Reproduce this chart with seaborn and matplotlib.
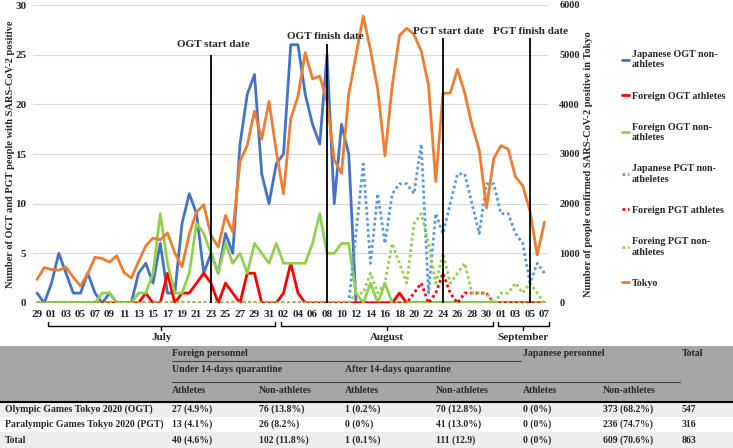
import numpy as np
import pandas as pd
import matplotlib
matplotlib.use("Agg")
import matplotlib.pyplot as plt
import seaborn as sns
from matplotlib.lines import Line2D
from matplotlib.patches import Rectangle
import matplotlib.transforms as mtransforms

# ---------------- data ----------------
day_labels = ["29", "30",
              "01", "02", "03", "04", "05", "06", "07", "08", "09", "10",
              "11", "12", "13", "14", "15", "16", "17", "18", "19", "20",
              "21", "22", "23", "24", "25", "26", "27", "28", "29", "30", "31",
              "01", "02", "03", "04", "05", "06", "07", "08", "09", "10",
              "11", "12", "13", "14", "15", "16", "17", "18", "19", "20",
              "21", "22", "23", "24", "25", "26", "27", "28", "29", "30", "31",
              "01", "02", "03", "04", "05", "06", "07"]

jp_ogt_non = [1, 0, 2, 5, 3, 1, 1, 3, 1, 0, 1, 0, 0, 0, 3, 4, 2, 6, 1, 1,
              8, 11, 9, 3, 5, 3, 7, 5, 16, 21, 23, 13, 10, 14, 15, 26, 26, 21, 18, 16,
              25, 10, 18, 15, 0, 0, 0, 0, 0, 0, 0, 0, 0, 0, 0, 0, 0, 0, 0, 0,
              0, 0, 0, 0, 0, 0, 0, 0, 0, 0, 0]
fo_ogt_ath = [0, 0, 0, 0, 0, 0, 0, 0, 0, 0, 0, 0, 0, 0, 0, 1, 0, 0, 3, 0,
              1, 1, 2, 3, 2, 0, 2, 1, 0, 3, 3, 0, 0, 0, 1, 4, 1, 0, 0, 0,
              0, 0, 0, 0, 0, 0, 0, 0, 0, 0, 1, 0, 0, 0, 0, 0, 0, 0, 0, 0,
              0, 0, 0, 0, 0, 0, 0, 0, 0, 0, 0]
fo_ogt_non = [0, 0, 0, 0, 0, 0, 0, 0, 0, 1, 1, 0, 0, 0, 1, 1, 3, 9, 4, 1,
              1, 3, 8, 7, 5, 3, 6, 4, 5, 3, 6, 5, 4, 6, 4, 4, 4, 4, 6, 9,
              5, 5, 6, 6, 1, 0, 2, 0, 2, 0, 0, 0, 0, 0, 0, 0, 0, 0, 0, 0,
              0, 0, 0, 0, 0, 0, 0, 0, 0, 0, 0]
jp_pgt_non = [0, 0, 0, 0, 0, 0, 0, 0, 0, 0, 0, 0, 0, 0, 0, 0, 0, 0, 0, 0,
              0, 0, 0, 0, 0, 0, 0, 0, 0, 0, 0, 0, 0, 0, 0, 0, 0, 0, 0, 0,
              0, 0, 0, 0, 7, 14, 4, 11, 6, 11, 12, 12, 11, 16, 1, 9, 7, 10, 13, 13,
              10, 7, 12, 12, 9, 9, 7, 6, 2, 4, 3]
fo_pgt_ath = [0, 0, 0, 0, 0, 0, 0, 0, 0, 0, 0, 0, 0, 0, 0, 0, 0, 0, 0, 0,
              0, 0, 0, 0, 0, 0, 0, 0, 0, 0, 0, 0, 0, 0, 0, 0, 0, 0, 0, 0,
              0, 0, 0, 0, 0, 0, 0, 0, 0, 0, 0, 0, 1, 2, 0, 1, 3, 1, 0, 1,
              1, 1, 1, 0, 0, 0, 0, 0, 0, 0, 0]
fo_pgt_non = [0, 0, 0, 0, 0, 0, 0, 0, 0, 0, 0, 0, 0, 0, 0, 0, 0, 0, 0, 0,
              0, 0, 0, 0, 0, 0, 0, 0, 0, 0, 0, 0, 0, 0, 0, 0, 0, 0, 0, 0,
              0, 0, 0, 0, 1, 1, 3, 1, 2, 6, 4, 2, 8, 9, 6, 2, 5, 2, 3, 4,
              1, 1, 1, 0, 1, 1, 2, 1, 2, 1, 0]
tokyo = [476, 714, 673, 660, 716, 518, 342, 593, 920, 896, 822, 950, 614, 502,
         830, 1149, 1308, 1271, 1410, 1008, 727, 1387, 1832, 1979, 1359, 1128,
         1763, 1429, 2848, 3177, 3865, 3300, 4058, 3058, 2195, 3709, 4166, 5042,
         4515, 4566, 4066, 2884, 2612, 4200, 4989, 5773, 5094, 4295, 2962, 4377,
         5386, 5534, 5405, 5074, 4392, 2447, 4220, 4228, 4704, 4227, 3581, 3081,
         1915, 2909, 3168, 3099, 2539, 2362, 1853, 968, 1629]

event_labels = ["OGT start date", "OGT finish date", "PGT start date", "PGT finish date"]
event_days = [24, 40, 56, 68]
months = ["July", "August", "September"]

series_names = ["Japanese OGT non-\nathletes", "Foreign OGT athletes",
                "Foreign OGT non-\nathletes", "Japanese PGT non-\natheletes",
                "Foreign PGT athletes", "Foreing PGT non-\nathletes", "Tokyo"]

tbl_header_top = ["Foreign personnel", "Japanese personnel", "Total"]
tbl_header_mid = ["Under 14-days quarantine", "After 14-days quarantine"]
tbl_header_sub = ["Athletes", "Non-athletes", "Athletes", "Non-athletes", "Athletes", "Non-athletes"]
tbl_row_names = ["Olympic Games Tokyo 2020 (OGT)", "Paralympic Games Tokyo 2020 (PGT)", "Total"]
tbl_ogt = ["27 (4.9%)", "76 (13.8%)", "1 (0.2%)", "70 (12.8%)", "0 (0%)", "373 (68.2%)", "547"]
tbl_pgt = ["13 (4.1%)", "26 (8.2%)", "0 (0%)", "41 (13.0%)", "0 (0%)", "236 (74.7%)", "316"]
tbl_tot = ["40 (4.6%)", "102 (11.8%)", "1 (0.1%)", "111 (12.9)", "0 (0%)", "609 (70.6%)", "863"]

# ---------------- style ----------------
sns.set_style("white")
plt.rcParams["font.family"] = ["Liberation Serif", "DejaVu Serif"]
plt.rcParams["font.weight"] = "bold"
plt.rcParams["axes.labelweight"] = "bold"

W, H = 733, 448
fig = plt.figure(figsize=(W / 100, H / 100), dpi=100)

ax_l, ax_r, ax_t, ax_b = 33.4, 548.1, 5, 303
ax = fig.add_axes([ax_l / W, 1 - ax_b / H, (ax_r - ax_l) / W, (ax_b - ax_t) / H])
ax2 = ax.twinx()

idx = np.arange(len(day_labels))
df = pd.DataFrame({"day": idx, "jp_ogt": jp_ogt_non, "fo_ogt_a": fo_ogt_ath,
                   "fo_ogt_n": fo_ogt_non, "jp_pgt": jp_pgt_non,
                   "fo_pgt_a": fo_pgt_ath, "fo_pgt_n": fo_pgt_non, "tokyo": tokyo})

BLUE, RED, GREEN, LBLUE, ORANGE = "#4472C4", "#FF0000", "#92D050", "#5B9BD5", "#ED7D31"
LW = 2.0
dot = (0, (1, 1))
specs = [("jp_ogt", BLUE, "-"), ("fo_ogt_a", RED, "-"), ("fo_ogt_n", GREEN, "-"),
         ("jp_pgt", LBLUE, dot), ("fo_pgt_a", RED, dot), ("fo_pgt_n", GREEN, dot)]
for i, (col, c, ls) in enumerate(specs):
    sns.lineplot(data=df, x="day", y=col, ax=ax, color=c, lw=LW, linestyle=ls,
                 legend=False, sort=False, zorder=3 + i)
sns.lineplot(data=df, x="day", y="tokyo", ax=ax2, color=ORANGE, lw=LW,
             legend=False, sort=False, zorder=3)

ax.set_xlim(-0.5, len(day_labels) - 0.5)
ax.set_ylim(0, 30)
ax2.set_ylim(0, 6000)
ax.set_yticks(range(0, 31, 5))
ax2.set_yticks(range(0, 6001, 1000))
ax.set_xticks(idx[::2])
ax.set_xticklabels(day_labels[::2])
ax.yaxis.grid(True, color="#D9D9D9", lw=0.8)
ax.set_axisbelow(True)
for a in (ax, ax2):
    for s in a.spines.values():
        s.set_visible(False)
ax.tick_params(axis="x", length=0, pad=5, labelsize=8)
ax.tick_params(axis="y", length=0, pad=5, labelsize=8)
ax2.tick_params(axis="y", length=0, pad=8, labelsize=7.5)
ax.set_xlabel("")
ax.set_ylabel("Number of OGT and PGT people with SARS-CoV-2 positive", fontsize=7.5, fontweight="bold")
ax2.set_ylabel("Number of people confirmed SARS-CoV-2 positive in Tokyo", fontsize=7.5, fontweight="bold")
ax.yaxis.set_label_coords((15 - ax_l) / (ax_r - ax_l), 0.5)
ax2.yaxis.set_label_coords((584 - ax_l) / (ax_r - ax_l), 0.466)
ax2.patch.set_visible(False)

# event lines
tops = [4992, 5214, 5328, 5328]
text_x = [24.3, 39.7, 56.8, 68.1]
text_y = [5200, 5360, 5460, 5460]
for d, tp, lab, tx, ty in zip(event_days, tops, event_labels, text_x, text_y):
    ax2.vlines(d, 0, tp, color="black", lw=1.3, zorder=10)
    ax2.text(tx, ty, lab, ha="center", va="center", fontsize=8, fontweight="bold", zorder=11)

# month brackets
def fy(y):
    return 1 - y / H

tr = mtransforms.blended_transform_factory(ax.transData, fig.transFigure)
brackets = [(1.5, 32.8), (33.7, 62.9), (63.6, 70.6)]
for (x0, x1), m in zip(brackets, months):
    xc = (x0 + x1) / 2
    ax.plot([x0, x0, x1, x1], [fy(321.5), fy(326), fy(326), fy(321.5)], color="black",
            lw=1.0, transform=tr, clip_on=False)
    ax.plot([xc, xc], [fy(326), fy(330)], color="black", lw=1.0, transform=tr, clip_on=False)
    ax.text(xc, fy(337), m, transform=tr, ha="center", va="center", fontsize=8, fontweight="bold")

# legend
handles = []
for (col, c, ls) in specs:
    handles.append(Line2D([0], [0], color=c, lw=LW, linestyle=ls))
handles.append(Line2D([0], [0], color=ORANGE, lw=LW))
fig.legend(handles, series_names, loc="upper left", bbox_to_anchor=(622 / W, fy(50)),
           frameon=False, fontsize=7.2, handlelength=0.7, handletextpad=0.3,
           labelspacing=2.22, borderpad=0, borderaxespad=0)

# ---------------- table ----------------
def fx(x):
    return x / W

TFS = 7
fig.patches.append(Rectangle((0, fy(402)), 1, (402 - 346) / H, transform=fig.transFigure,
                             facecolor="#A6A6A6", edgecolor="none", zorder=0))
fig.patches.append(Rectangle((0, fy(417)), 1, 15 / H, transform=fig.transFigure,
                             facecolor="#EDEDED", edgecolor="none", zorder=0))
fig.patches.append(Rectangle((0, fy(448)), 1, 16 / H, transform=fig.transFigure,
                             facecolor="#EDEDED", edgecolor="none", zorder=0))
fig.add_artist(Line2D([fx(172), fx(521)], [fy(361), fy(361)], color="#404040", lw=0.8))
fig.add_artist(Line2D([fx(172), fx(680)], [fy(382), fy(382)], color="#404040", lw=0.8))
fig.add_artist(Line2D([0, 1], [fy(402), fy(402)], color="black", lw=1.5))

col_x = [172, 259, 345, 436, 523, 603, 682]
for t, x in zip(tbl_header_top, [172, 523, 682]):
    fig.text(fx(x), fy(354), t, ha="left", va="center", fontsize=TFS, fontweight="bold")
for t, x in zip(tbl_header_mid, [172, 345]):
    fig.text(fx(x), fy(370), t, ha="left", va="center", fontsize=TFS, fontweight="bold")
for t, x in zip(tbl_header_sub, col_x[:6]):
    fig.text(fx(x), fy(390), t, ha="left", va="center", fontsize=TFS, fontweight="bold")
for name, vals, y in zip(tbl_row_names, [tbl_ogt, tbl_pgt, tbl_tot], [409, 424, 440]):
    fig.text(fx(5), fy(y), name, ha="left", va="center", fontsize=TFS, fontweight="bold")
    for v, x in zip(vals, col_x):
        fig.text(fx(x), fy(y), v, ha="left", va="center", fontsize=TFS, fontweight="bold")

fig.savefig("out.png", dpi=100)
